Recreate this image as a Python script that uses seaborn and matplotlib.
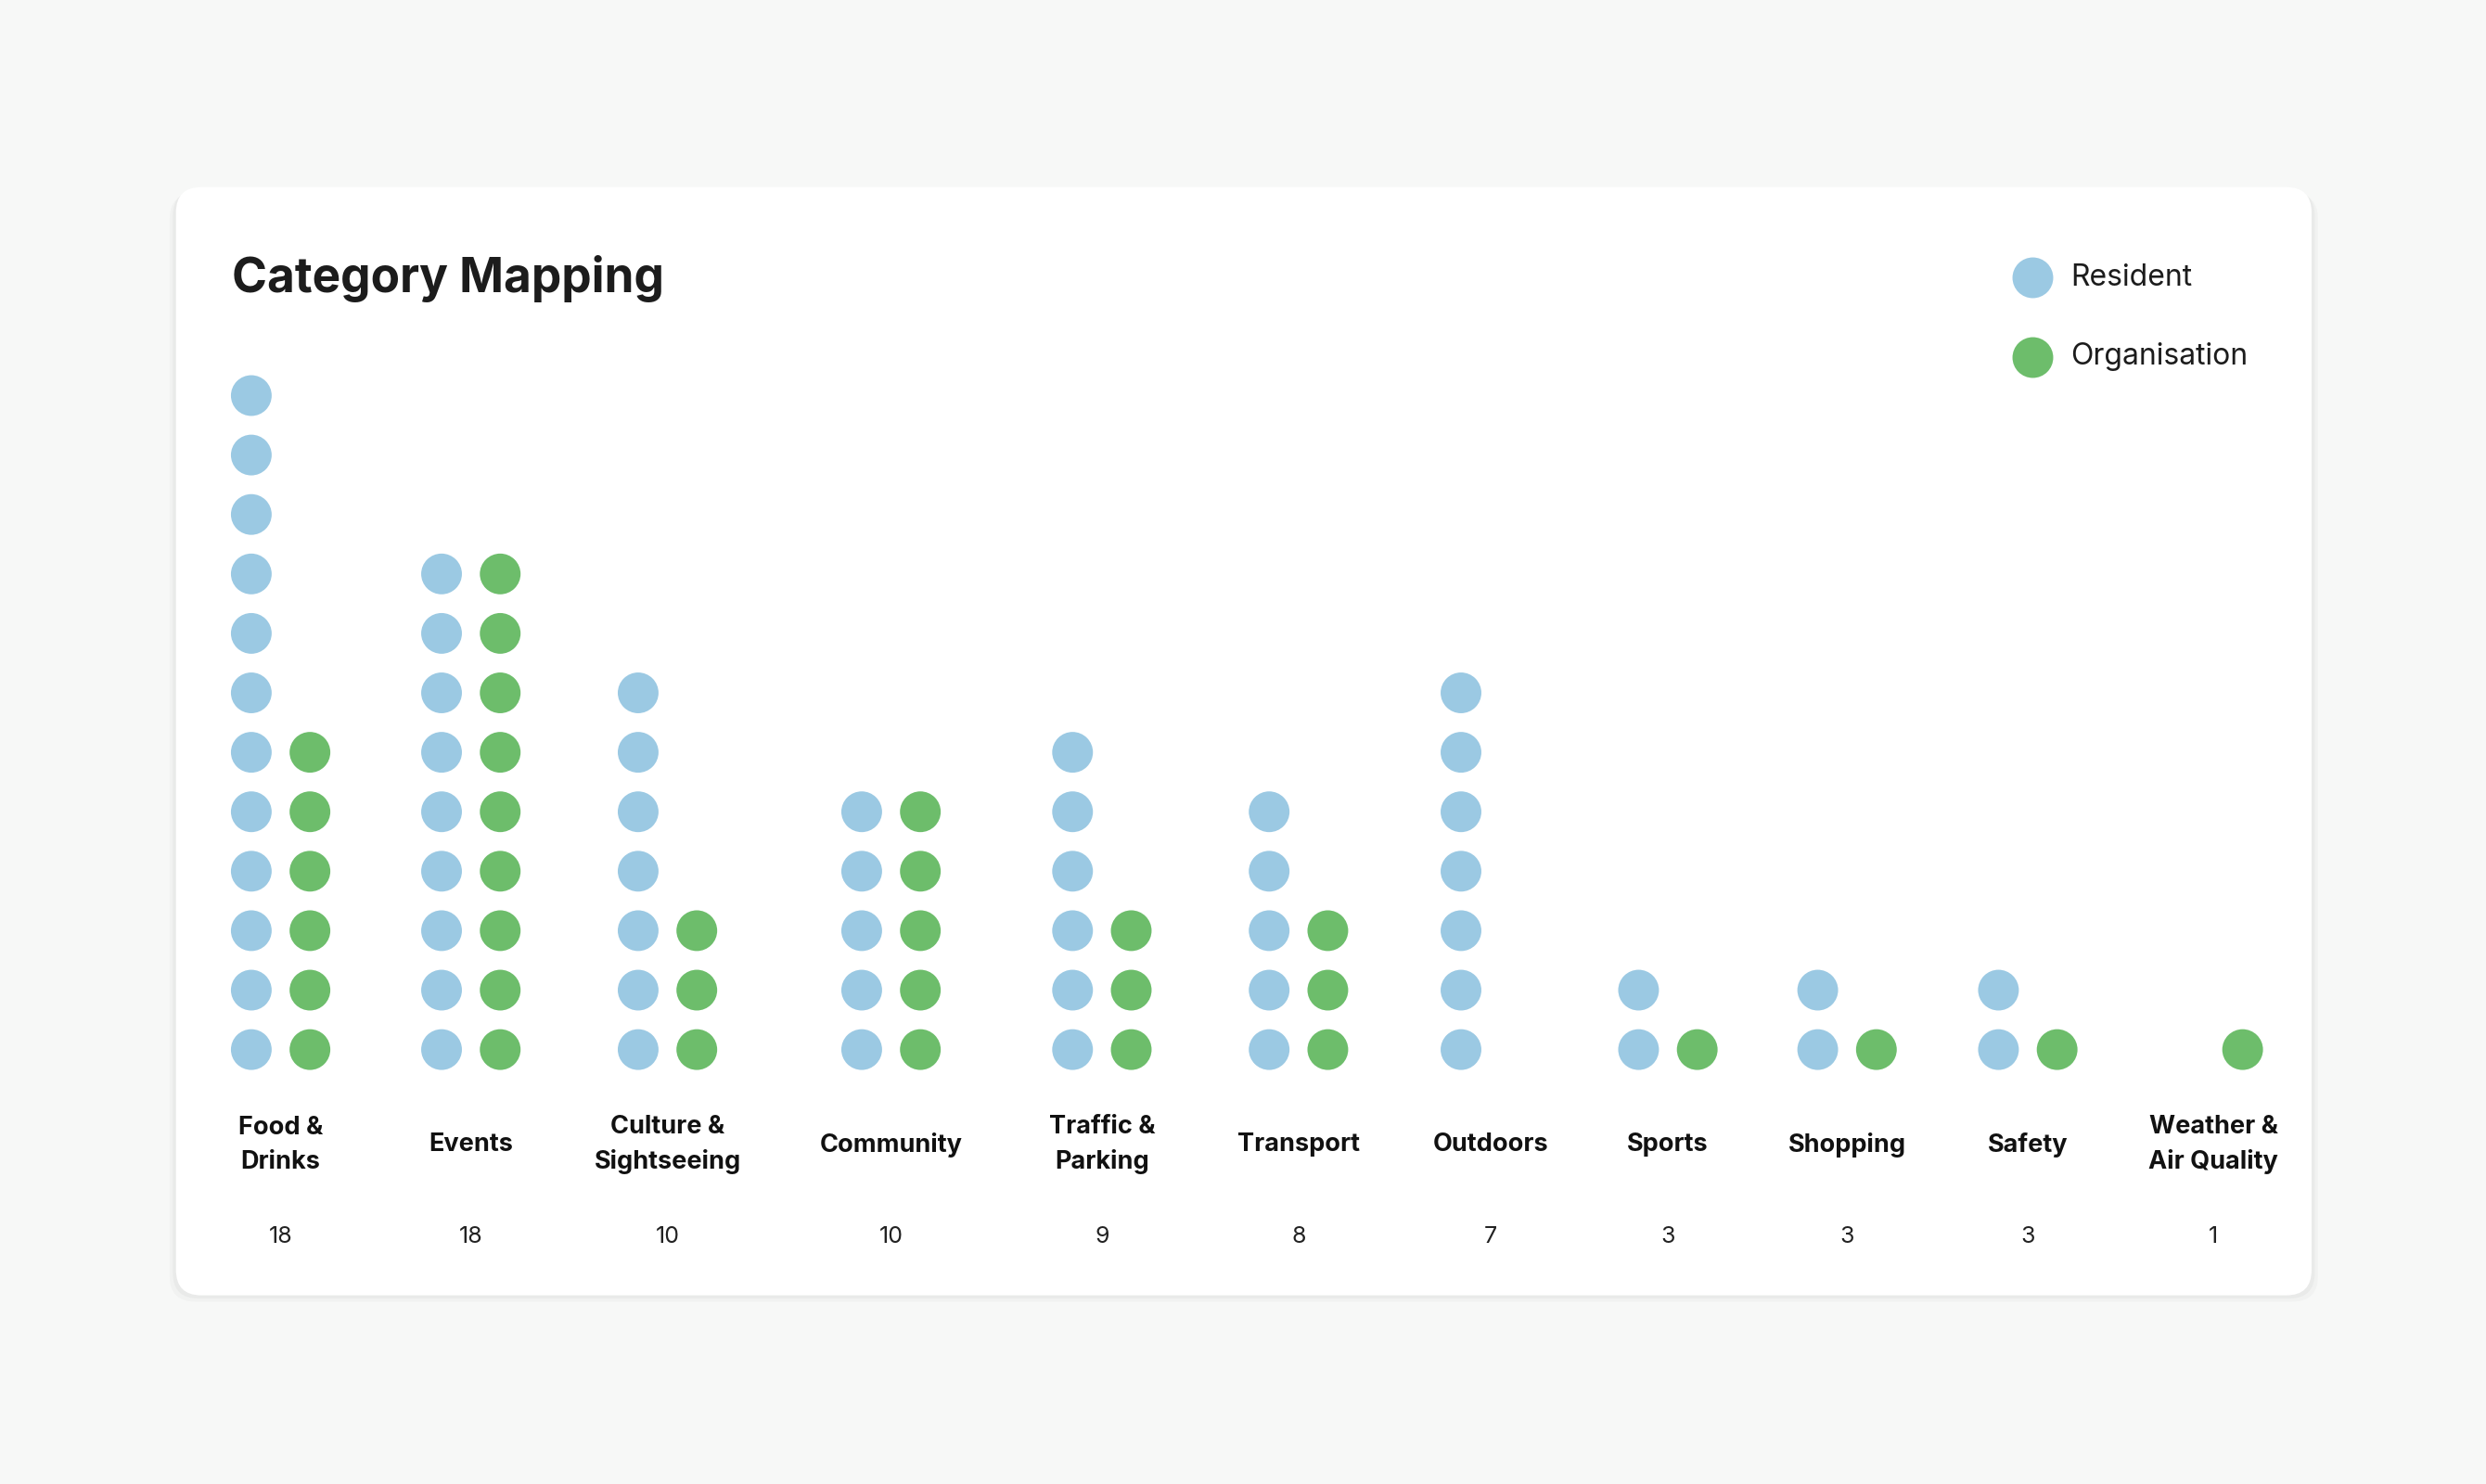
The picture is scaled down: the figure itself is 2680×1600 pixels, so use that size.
import pandas as pd
import seaborn as sns
import matplotlib.pyplot as plt
from matplotlib.patches import FancyBboxPatch

sns.set_theme(style="white")
plt.rcParams['font.family'] = ['Inter', 'DejaVu Sans']

categories = ["Food &\nDrinks", "Events", "Culture &\nSightseeing", "Community",
              "Traffic &\nParking", "Transport", "Outdoors", "Sports", "Shopping",
              "Safety", "Weather &\nAir Quality"]
resident = [12, 9, 7, 5, 6, 5, 7, 2, 2, 2, 0]
organisation = [6, 9, 3, 5, 3, 3, 0, 1, 1, 1, 1]
totals = [18, 18, 10, 10, 9, 8, 7, 3, 3, 3, 1]

# layout (reference pixel space 1568 x 936)
centers = [177, 297, 421, 562, 695, 819, 940, 1052, 1165, 1279, 1396]
base_y, step_y, off = 662, 37.5, 18.5
colors = {"Resident": "#9bc9e3", "Organisation": "#6dbd6b"}

rows = []
for c, r, o, cx in zip(categories, resident, organisation, centers):
    for i in range(r):
        rows.append({"x": cx - off, "y": base_y - i * step_y, "type": "Resident"})
    for i in range(o):
        rows.append({"x": cx + off, "y": base_y - i * step_y, "type": "Organisation"})
df = pd.DataFrame(rows)

fig = plt.figure(figsize=(26.8, 16), dpi=100)
fig.patch.set_facecolor("#f7f8f7")
ax = fig.add_axes([0, 0, 1, 1])
ax.set_xlim(0, 1568)
ax.set_ylim(936, 0)
ax.axis("off")

for d, a in [(4, 0.025), (2, 0.03)]:
    ax.add_patch(FancyBboxPatch((111 - d, 118 + d), 1347 + 2 * d, 699, boxstyle="round,pad=0,rounding_size=16",
                                fc="black", ec="none", alpha=a, zorder=0))
ax.add_patch(FancyBboxPatch((111, 118), 1347, 699, boxstyle="round,pad=0,rounding_size=16",
                            fc="white", ec="none", zorder=1))

sns.scatterplot(data=df, x="x", y="y", hue="type", palette=colors, s=1000,
                linewidth=0, legend=False, ax=ax, zorder=3)

ax.text(146, 176, "Category Mapping", fontsize=37, fontweight="bold", color="#1c1c1c",
        va="center", ha="left", zorder=4)

for i, (name, col) in enumerate(colors.items()):
    y = 175 + i * 50
    ax.scatter([1282], [y], s=1000, color=col, linewidth=0, zorder=4)
    ax.text(1306, y, name, fontsize=23, color="#1c1c1c", va="center", ha="left", zorder=4)

for c, t, cx in zip(categories, totals, centers):
    ax.text(cx, 722, c, fontsize=19.5, fontweight="bold", color="#111111", ha="center",
            va="center", linespacing=1.55, zorder=4)
    ax.text(cx, 780, str(t), fontsize=18, color="#222222", ha="center", va="center", zorder=4)

fig.savefig("out.png", dpi=100, facecolor=fig.get_facecolor())
